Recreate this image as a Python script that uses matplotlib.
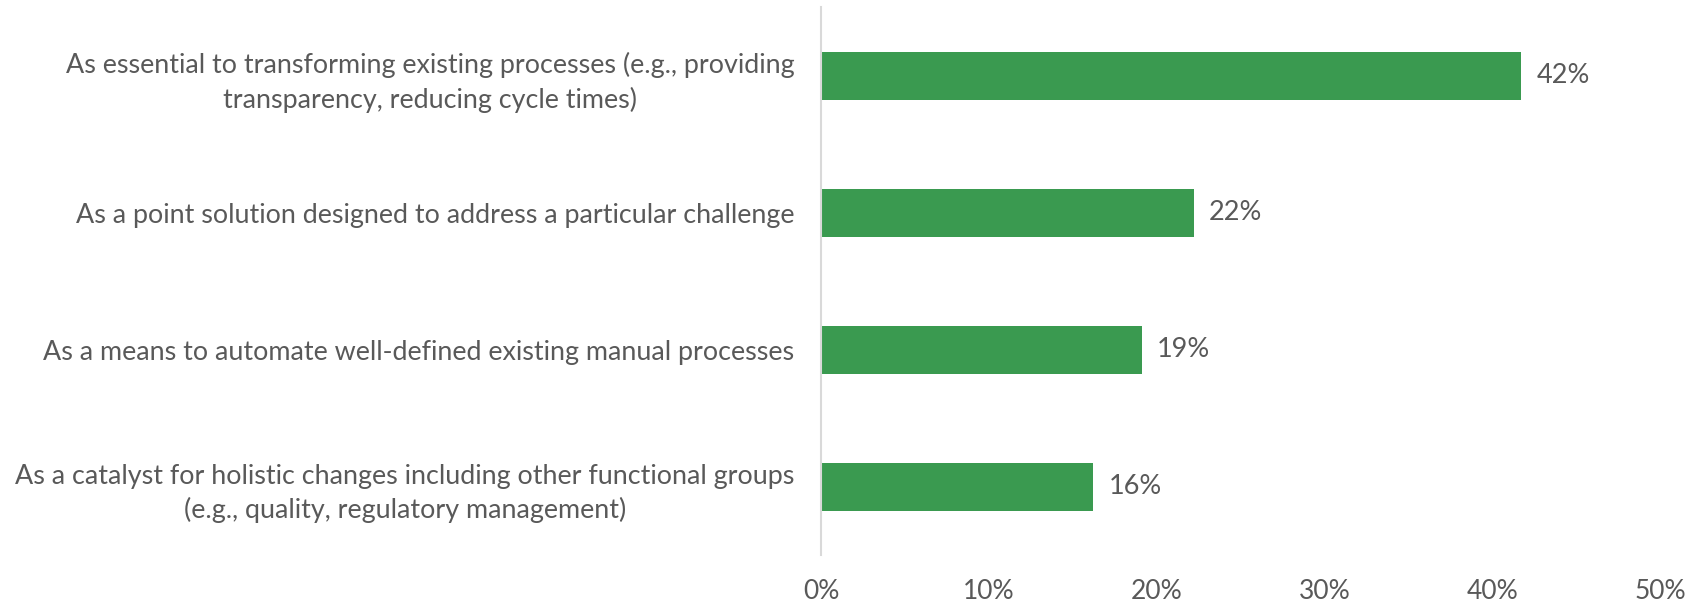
import matplotlib.pyplot as plt

categories = [
    "As essential to transforming existing processes (e.g., providing\ntransparency, reducing cycle times)",
    "As a point solution designed to address a particular challenge",
    "As a means to automate well-defined existing manual processes",
    "As a catalyst for holistic changes including other functional groups\n(e.g., quality, regulatory management)",
]
values = [41.7, 22.2, 19.1, 16.2]
labels = ["42%", "22%", "19%", "16%"]
xticks = [0, 10, 20, 30, 40, 50]

plt.rcParams["font.family"] = ["Lato", "DejaVu Sans"]
text_color = "#595959"

fig = plt.figure(figsize=(17.05, 6.05), dpi=100)
ax = fig.add_axes([0.4815, 0.0826, 0.4925, 0.9054])

pos = list(range(len(categories)))
ax.barh(pos, values, height=0.35, color="#3A9A50")
for p, v, lab in zip(pos, values, labels):
    ax.annotate(lab, (v, p), xytext=(11, 0), textcoords="offset points",
                va="center", ha="left", fontsize=19.5, color=text_color)

ax.set_ylim(3.5, -0.5)
ax.set_xlim(0, 50)
ax.set_xticks(xticks)
ax.set_xticklabels([f"{t}%" for t in xticks])
ax.set_yticks(pos)
ax.set_yticklabels(categories)
for t in ax.get_yticklabels():
    t.set_multialignment("center")
    t.set_linespacing(1.4)

ax.tick_params(axis="y", length=0, pad=19, labelsize=19.4, labelcolor=text_color)
ax.tick_params(axis="x", length=0, pad=17, labelsize=19, labelcolor=text_color)
for s in ["top", "right", "bottom"]:
    ax.spines[s].set_visible(False)
ax.spines["left"].set_color("#D9D9D9")
ax.spines["left"].set_linewidth(1.5)

fig.savefig("out.png", dpi=100)
